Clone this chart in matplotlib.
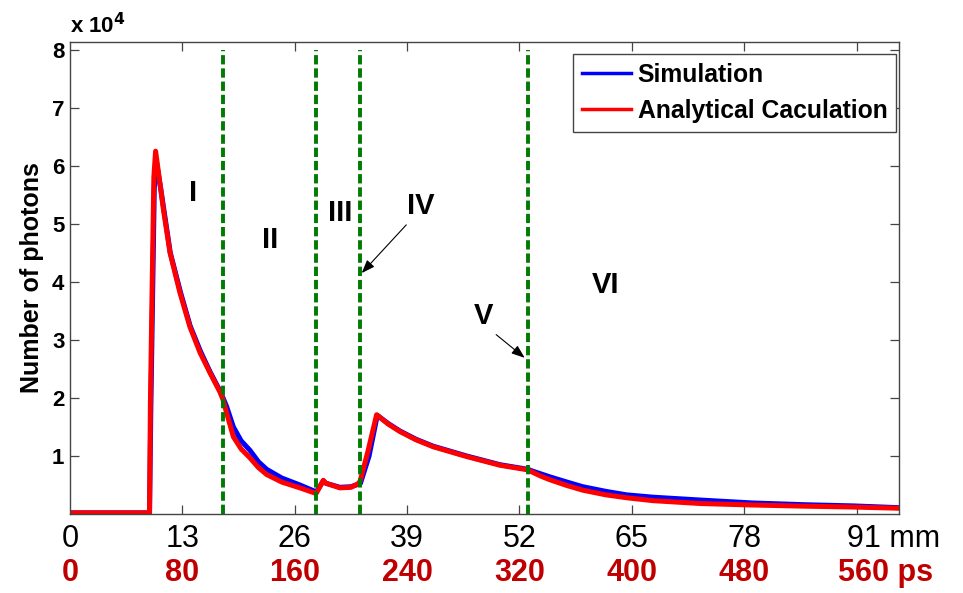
import matplotlib
matplotlib.use('Agg')
import matplotlib.pyplot as plt
import numpy as np
from matplotlib.lines import Line2D

plt.rcParams['font.family'] = ['Liberation Sans', 'DejaVu Sans']

# --- dati (posizione in mm, fotoni in unita di 1e4) ---
ana_x = [0, 9.2, 9.3, 9.5, 9.7, 9.9, 10.4, 10.8, 11.57, 12.72, 13.88, 15.04, 16.2, 17.35,
         17.7, 18.12, 18.9, 19.8, 20.8, 21.8, 22.75, 24.5, 26.6, 28.34, 28.5, 29.3, 29.6,
         31.23, 32.5, 33.31, 33.55, 34.5, 35.47, 36.8, 38.17, 40.0, 41.98, 45.88, 49.73,
         52.97, 53.5, 54.5, 55.52, 57.5, 59.33, 62.0, 64.39, 67.43, 73.0, 79.0, 85.0,
         90.56, 95.8]
ana_y = [0.02, 0.02, 1.9, 3.9, 5.8, 6.25, 5.7, 5.25, 4.5, 3.81, 3.22, 2.78, 2.43, 2.1,
         1.97, 1.74, 1.33, 1.12, 0.97, 0.8, 0.68, 0.55, 0.45, 0.36, 0.36, 0.58, 0.53,
         0.45, 0.46, 0.52, 0.56, 1.1, 1.71, 1.55, 1.42, 1.28, 1.16, 0.99, 0.84,
         0.76, 0.72, 0.65, 0.59, 0.49, 0.41, 0.33, 0.28, 0.23, 0.18, 0.155, 0.135,
         0.12, 0.1]

sim_x = [0, 9.2, 9.35, 9.55, 9.75, 9.95, 10.5, 10.9, 11.6, 12.8, 13.9, 15.1, 16.2, 17.35,
         17.7, 18.12, 18.9, 19.8, 20.8, 21.8, 22.75, 24.5, 26.6, 28.34, 28.5, 29.3, 29.6,
         31.23, 32.5, 33.31, 33.6, 34.6, 35.55, 36.8, 38.17, 40.0, 41.98, 45.88, 49.73,
         52.97, 53.5, 54.5, 55.52, 57.5, 59.33, 62.0, 64.39, 67.43, 73.0, 79.0, 85.0,
         90.56, 95.8]
sim_y = [0.02, 0.02, 1.8, 3.7, 5.6, 6.1, 5.6, 5.2, 4.5, 3.81, 3.24, 2.8, 2.45, 2.12,
         2.0, 1.85, 1.5, 1.26, 1.1, 0.9, 0.77, 0.62, 0.5, 0.39, 0.38, 0.57, 0.53,
         0.46, 0.47, 0.51, 0.53, 1.0, 1.7, 1.56, 1.43, 1.29, 1.17, 1.0, 0.85,
         0.77, 0.74, 0.69, 0.64, 0.55, 0.47, 0.39, 0.33, 0.29, 0.24, 0.19, 0.16,
         0.14, 0.11]

confini = [17.7, 28.45, 33.55, 52.95]
tick_mm = [0, 13, 26, 39, 52, 65, 78, 91]
etichette_mm = ['0', '13', '26', '39', '52', '65', '78', '91 mm']
etichette_ps = ['0', '80', '160', '240', '320', '400', '480', '560 ps']
tick_y = [1, 2, 3, 4, 5, 6, 7, 8]

fig = plt.figure(figsize=(9.63, 5.93), dpi=100)
ax = fig.add_axes([0.0727, 0.1332, 0.8608, 0.7960])

scala = 1e4
ax.plot(sim_x, np.array(sim_y) * scala, color='blue', lw=3.6, solid_joinstyle='round')
ax.plot(ana_x, np.array(ana_y) * scala, color='red', lw=3.6, solid_joinstyle='round')

for xb in confini:
    ax.plot([xb, xb], [0, 8 * scala], color='#007A00', lw=2.8,
            linestyle=(0, (2.4, 1.0)))

ax.set_xlim(0, 95.9)
ax.set_ylim(0, 8.13 * scala)

# assi stile MATLAB
ax.set_xticks(tick_mm[1:], labels=[])
ax.set_yticks([v * scala for v in tick_y], labels=[str(v) for v in tick_y])
ax.tick_params(direction='in', top=True, right=True, length=6.5, width=0.9,
               color='#444444', pad=4)
for lab in ax.get_yticklabels():
    lab.set_fontsize(16)
    lab.set_fontweight('bold')
for sp in ax.spines.values():
    sp.set_color('#444444')
    sp.set_linewidth(1.0)

# etichette asse x: mm (nero) e ps (rosso)
for xv, lm, lp in zip(tick_mm, etichette_mm, etichette_ps):
    ha_m = 'left' if ' ' in lm else 'center'
    ha_p = 'left' if ' ' in lp else 'center'
    dx_m = -7.2 if ' ' in lm else 0
    dx_p = -13.7 if ' ' in lp else 0
    ax.annotate(lm, xy=(xv, 0), xycoords=('data', 'axes fraction'),
                xytext=(dx_m, -18), textcoords='offset points',
                ha=ha_m, va='center', fontsize=22, color='black')
    ax.annotate(lp, xy=(xv, 0), xycoords=('data', 'axes fraction'),
                xytext=(dx_p, -42.5), textcoords='offset points',
                ha=ha_p, va='center', fontsize=22, fontweight='bold', color='#C00000')

ax.set_ylabel('Number of photons', fontsize=18, fontweight='bold', labelpad=6)
ax.annotate(r'x 10$^{\mathbf{4}}$', xy=(0, 1), xycoords='axes fraction',
            xytext=(0, 12), textcoords='offset points', ha='left', va='center',
            fontsize=16, fontweight='bold')

# regioni
kw = dict(fontsize=21, fontweight='bold', ha='center', va='center')
ax.text(14.2, 5.53 * scala, 'I', **kw)
ax.text(23.1, 4.72 * scala, 'II', **kw)
ax.text(31.2, 5.19 * scala, 'III', **kw)
ax.text(40.6, 5.30 * scala, 'IV', **kw)
ax.text(47.8, 3.41 * scala, 'V', **kw)
ax.text(61.9, 3.95 * scala, 'VI', **kw)

freccia = dict(arrowstyle='-|>,head_length=0.8,head_width=0.3', color='black', lw=0.8,
               shrinkA=0, shrinkB=0)
ax.annotate('', xy=(33.75, 4.15 * scala), xytext=(38.9, 4.98 * scala), arrowprops=freccia)
ax.annotate('', xy=(52.6, 2.69 * scala), xytext=(49.3, 3.09 * scala), arrowprops=freccia)

maniglie = [Line2D([], [], color='blue', lw=2.5), Line2D([], [], color='red', lw=2.5)]
leg = ax.legend(maniglie, ['Simulation', 'Analytical Caculation'], loc='upper right',
                bbox_to_anchor=(0.9964, 0.9746), borderaxespad=0,
                prop={'weight': 'bold', 'size': 17.8}, fancybox=False,
                edgecolor='#444444', framealpha=1, handlelength=2.0,
                handletextpad=0.25, labelspacing=0.5, borderpad=0.35)
leg.get_frame().set_linewidth(1.0)

fig.savefig('out.png', dpi=100)
